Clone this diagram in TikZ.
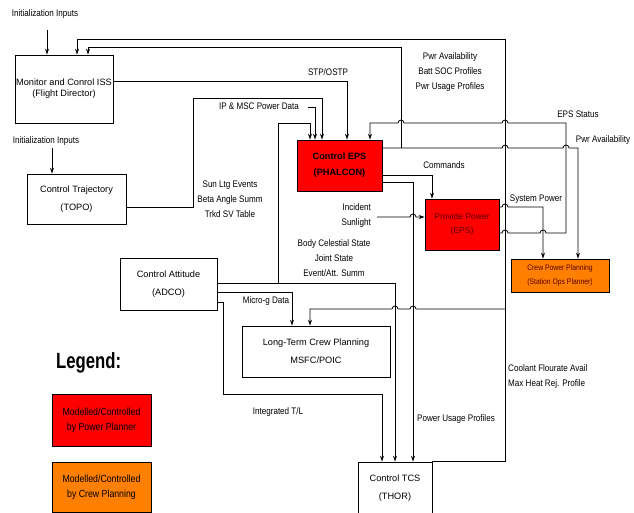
\documentclass[tikz,border=0pt]{standalone}
\usepackage{fontspec}
\setmainfont{Liberation Sans}
\newfontfamily\condfont[FakeStretch=0.85]{Liberation Sans}
\newfontfamily\legfont[FakeStretch=0.76]{Liberation Sans}
\usetikzlibrary{arrows.meta}
\definecolor{pwrred}{RGB}{255,0,0}
\definecolor{crewor}{RGB}{255,128,0}
\definecolor{darktxt}{RGB}{90,0,0}
\tikzstyle{box} = [draw, line width=0.8pt, align=center, inner sep=0pt, font=\fontsize{9.2}{18}\selectfont]
\tikzstyle{lbl} = [align=center, inner sep=0pt, font=\condfont\fontsize{9.5}{15}\selectfont]
\tikzstyle{flow} = [line width=0.8pt, -{Stealth[length=6pt,width=4pt]}]
% little jumps where a line crosses another one
\newcommand{\hopr}[2]{-- ({#1-3},#2) arc[start angle=180,end angle=0,radius=3pt]}
\newcommand{\hopl}[2]{-- ({#1+3},#2) arc[start angle=0,end angle=180,radius=3pt]}

\begin{document}
\begin{tikzpicture}[x=1pt, y=-1pt]
	\useasboundingbox (0,0) rectangle (634,512);

	% boxes
	\node[box, minimum width=98pt, minimum height=68pt, font=\fontsize{9.2}{11}\selectfont] (mon) at (64,89) {Monitor and Conrol ISS\\(Flight Director)};
	\node[box, minimum width=99pt, minimum height=50pt] (traj) at (76.5,199) {Control Trajectory\\(TOPO)};
	\node[box, minimum width=97pt, minimum height=52pt] (att) at (168.5,284) {Control Attitude\\(ADCO)};
	\node[box, fill=pwrred, minimum width=85pt, minimum height=51pt, font=\bfseries\fontsize{9.2}{16}\selectfont] (ctrleps) at (339.5,165.5) {Control EPS\\(PHALCON)};
	\node[box, fill=pwrred, text=darktxt, minimum width=74pt, minimum height=51pt, font=\fontsize{8.5}{14}\selectfont] (power) at (462,224.5) {Provide Power\\(EPS)};
	\node[box, fill=crewor, text=darktxt, minimum width=98pt, minimum height=33pt, font=\condfont\fontsize{8}{14}\selectfont] (crewpwr) at (560,275.5) {Crew Power Planning\\(Station Ops Planner)};
	\node[box, minimum width=148pt, minimum height=51pt] (ltcp) at (316,351.5) {Long-Term Crew Planning\\MSFC/POIC};
	\node[box, minimum width=74pt, minimum height=52pt] (tcs) at (395,488) {Control TCS\\(THOR)};

	% legend
	\node[anchor=base west, inner sep=0pt, font=\legfont\bfseries\fontsize{22}{22}\selectfont] (legend) at (56,368) {Legend:};
	\node[box, fill=pwrred, minimum width=99pt, minimum height=52pt, font=\condfont\fontsize{10.3}{15}\selectfont] (leg1) at (101.5,420) {Modelled/Controlled\\by Power Planner};
	\node[box, fill=crewor, minimum width=99pt, minimum height=50pt, font=\condfont\fontsize{10.3}{15}\selectfont] (leg2) at (101.5,487) {Modelled/Controlled\\by Crew Planning};

	% labels
	\node[lbl] (init1) at (45,14) {Initialization Inputs};
	\node[lbl] (init2) at (46,141) {Initialization Inputs};
	\node[lbl] (stp) at (328,72) {STP/OSTP};
	\node[lbl] (avail) at (450,72) {Pwr Availability\\Batt SOC Profiles\\Pwr Usage Profiles};
	\node[lbl] (ipmsc) at (259,106) {IP \& MSC Power Data};
	\node[lbl] (sunevt) at (230,199) {Sun Ltg Events\\Beta Angle Summ\\Trkd SV Table};
	\node[lbl] (cmds) at (444,165) {Commands};
	\node[lbl] (epsstat) at (578,114) {EPS Status};
	\node[lbl] (avail2) at (603,140) {Pwr Availability};
	\node[lbl] (syspwr) at (536,199) {System Power};
	\node[lbl, align=right, anchor=east] (sunlt) at (371,215.5) {Incident\\Sunlight};
	\node[lbl] (bodycel) at (334,258) {Body Celestial State\\Joint State\\Event/Att. Summ};
	\node[lbl] (microg) at (266,301) {Micro-g Data};
	\node[lbl] (inttl) at (278,412) {Integrated T/L};
	\node[lbl] (usage) at (456,419) {Power Usage Profiles};
	\node[lbl, align=left, anchor=west] (coolant) at (508,376.5) {Coolant Flourate Avail\\Max Heat Rej. Profile};

	% connectors
	\coordinate (in1) at (47,30);
	\coordinate (in2) at (52,148);
	\coordinate (ipin) at (308,107);
	\coordinate (sunin) at (377,217);
	\coordinate (attj) at (278,283);
	\coordinate (availj) at (401,148);
	\coordinate (coolj) at (505,309);

	\draw[flow] (in1) -- (in1 |- mon.north);
	\draw[flow] (in2) -- (in2 |- traj.north);
	\draw[flow] (mon.east |- 0,81) -| (347,0 |- ctrleps.north);
	\draw[flow] (ipin) -| (315,0 |- ctrleps.north);
	\draw[flow] (traj.east |- 0,207) -| (193,98) -| (322,0 |- ctrleps.north);

	\draw[flow] (att.east |- attj) -| (395,0 |- tcs.north);
	\draw[flow] (attj) |- (310,123) -- (310,0 |- ctrleps.north);
	\draw[flow] (att.east |- 0,292) -| (292,0 |- ltcp.north);
	\draw[flow] (att.east |- 0,302) -| (223,394) -| (382,0 |- tcs.north);

	\draw[flow] (ctrleps.east |- availj) \hopr{505}{148} \hopr{566}{148} -| (578,0 |- crewpwr.north);
	\draw[flow] (availj) |- (88,47) -- (88,0 |- mon.north);
	\draw[flow] (ctrleps.east |- 0,175) -| (432,0 |- power.north);
	\draw[flow] (ctrleps.east |- 0,182) -| (413,0 |- tcs.north);

	\draw[flow] (power.east |- 0,233) \hopr{505}{233} \hopr{543}{233} -- (566,233) -- (566,123) \hopl{505}{123} \hopl{401}{123} -| (370,0 |- ctrleps.north);
	\draw[flow] (power.east |- 0,207) \hopr{505}{207} -| (543,0 |- crewpwr.north);
	\draw[flow] (sunin) \hopr{413}{217} -- (sunin -| power.west);

	\draw[flow] (tcs.north east) -- (505,0 |- tcs.north) |- (77,39) -- (77,0 |- mon.north);
	\draw[flow] (coolj) \hopl{413}{309} \hopl{395}{309} -| (310,0 |- ltcp.north);
\end{tikzpicture}
\end{document}
